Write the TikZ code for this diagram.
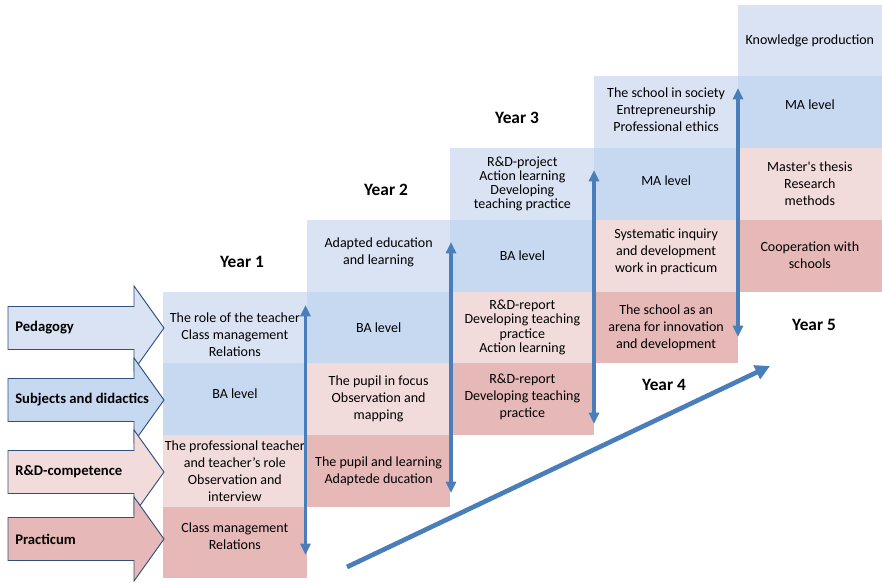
\documentclass[tikz,border=0pt]{standalone}
\usepackage{fontspec}
\setmainfont{Carlito}
\usepackage{tikz}
\usetikzlibrary{positioning, arrows.meta}
\definecolor{pedblue}{HTML}{DAE3F3}
\definecolor{subblue}{HTML}{C6D9F1}
\definecolor{rdpink}{HTML}{F2DCDB}
\definecolor{pracred}{HTML}{E6B9B8}
\definecolor{arrowblue}{HTML}{4A7EBB}
\definecolor{edgeblue}{HTML}{2F4F7F}
\tikzset{cell/.style={ % One block of the study plan
minimum width=107.81pt, minimum height=53.81pt,
inner sep=0pt, outer sep=0pt, align=center,
font=\fontsize{10.5}{12.75}\selectfont},
tight/.style={font=\fontsize{10.5}{10.7}\selectfont}, % Four lines in one block
lift/.style={yshift=#1, align=center, inner sep=0pt, % Text that sits off the middle of its block
font=\fontsize{10.5}{12.75}\selectfont},
yearlabel/.style={font=\fontsize{13}{15}\selectfont\bfseries},
sidelabel/.style={anchor=west, inner sep=0pt, % Text on the big arrows at the left
font=\fontsize{11}{13}\selectfont\bfseries},
sidearrow/.style={draw=edgeblue, line width=0.7pt},
span/.style={<->, >={Triangle[width=7.5pt,length=8.5pt]}, % Arrows that span one year
draw=arrowblue, line width=2.3pt},
growth/.style={-{Triangle[width=11pt,length=11pt]}, draw=arrowblue, line width=3.5pt}}

\begin{document}
\begin{tikzpicture}[x=0.75pt, y=-0.75pt]
    \useasboundingbox (0,0) rectangle (882,585);

    \node[cell, fill=pedblue, label={[lift=-5.25pt]center:The role of the teacher\\Class management\\Relations}] (c1r1) at (234.875,327.375) {};
    \node[cell, fill=subblue, below=0pt of c1r1, label={[lift=3.75pt]center:BA level}] (c1r2) {};
    \node[cell, fill=rdpink, below=0pt of c1r2] (c1r3) {The professional teacher\\and teacher’s role\\Observation and\\interview};
    \node[cell, fill=pracred, below=0pt of c1r3, label={[lift=4.9pt]center:Class management\\Relations}] (c1r4) {};

    \node[cell, fill=subblue, right=0pt of c1r1] (c2r2) {BA level};
    \node[cell, fill=pedblue, above=0pt of c2r2, label={[lift=2.25pt]center:Adapted education\\and learning}] (c2r1) {};
    \node[cell, fill=rdpink, below=0pt of c2r2] (c2r3) {The pupil in focus\\Observation and\\mapping};
    \node[cell, fill=pracred, below=0pt of c2r3] (c2r4) {The pupil and learning\\Adaptede ducation};

    \node[cell, fill=subblue, right=0pt of c2r1] (c3r2) {BA level};
    \node[cell, fill=pedblue, tight, above=0pt of c3r2] (c3r1) {R\&D-project\\Action learning\\Developing\\teaching practice};
    \node[cell, fill=rdpink, tight, below=0pt of c3r2] (c3r3) {R\&D-report\\Developing teaching\\practice\\Action learning};
    \node[cell, fill=pracred, below=0pt of c3r3, label={[lift=1.5pt]center:R\&D-report\\Developing teaching\\practice}] (c3r4) {};

    \node[cell, fill=subblue, right=0pt of c3r1, label={[lift=2.25pt]center:MA level}] (c4r2) {};
    \node[cell, fill=pedblue, above=0pt of c4r2, label={[lift=1.9pt]center:The school in society\\Entrepreneurship\\Professional ethics}] (c4r1) {};
    \node[cell, fill=rdpink, below=0pt of c4r2, label={[lift=3pt]center:Systematic inquiry\\and development\\work in practicum}] (c4r3) {};
    \node[cell, fill=pracred, below=0pt of c4r3] (c4r4) {The school as an\\arena for innovation\\and development};

    \node[cell, fill=subblue, right=0pt of c4r1, label={[lift=5.25pt]center:MA level}] (c5r2) {};
    \node[cell, fill=pedblue, above=0pt of c5r2] (c5r1) {Knowledge production};
    \node[cell, fill=rdpink, below=0pt of c5r2] (c5r3) {Master\textquotesingle s thesis\\Research\\methods};
    \node[cell, fill=pracred, below=0pt of c5r3] (c5r4) {Cooperation with\\schools};

    \node[yearlabel] (year1) at (242,262) {Year 1};
    \node[yearlabel] (year2) at (386,190) {Year 2};
    \node[yearlabel] (year3) at (517,118) {Year 3};
    \node[yearlabel] (year4) at (664,385) {Year 4};
    \node[yearlabel] (year5) at (814,325) {Year 5};

    \foreach \yy/\tone/\nm/\txt in {328/pedblue/ped/Pedagogy,
        400/subblue/subj/Subjects and didactics,
        472/rdpink/rdc/R\&D-competence,
        539/pracred/prac/Practicum}{
        \draw[sidearrow, fill=\tone] (8,\yy-21.5) -- (134,\yy-21.5) -- (134,\yy-42)
            -- (164,\yy) -- (134,\yy+42) -- (134,\yy+21.5) -- (8,\yy+21.5) -- cycle;
        \node[sidelabel] (\nm) at (15,\yy) {\txt};
    }

    \coordinate (v1top) at (305.5,305);
    \coordinate (v1bot) at (305.5,555);
    \coordinate (v2top) at (451,242);
    \coordinate (v2bot) at (451,493);
    \coordinate (v3top) at (594,170);
    \coordinate (v3bot) at (594,424);
    \coordinate (v4top) at (738,88);
    \coordinate (v4bot) at (738,337);
    \coordinate (rise) at (347,567);
    \coordinate (peak) at (770,366);

    \draw[span] (v1top) -- (v1bot);
    \draw[span] (v2top) -- (v2bot);
    \draw[span] (v3top) -- (v3bot);
    \draw[span] (v4top) -- (v4bot);
    \draw[growth] (rise) -- (peak);

\end{tikzpicture}
\end{document}
